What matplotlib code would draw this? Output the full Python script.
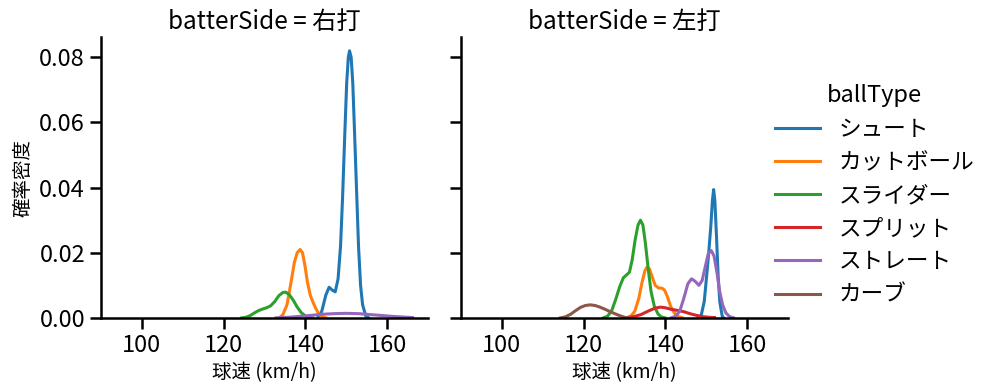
import numpy as np
import matplotlib
matplotlib.use("Agg")
import matplotlib.pyplot as plt

plt.rcParams['font.family'] = ['Noto Sans CJK JP', 'DejaVu Sans']

# ---------------------------
# DATA (density curves)
# ---------------------------
ball_types = ["シュート", "カットボール", "スライダー", "スプリット", "ストレート", "カーブ"]
colors = ["#1f77b4", "#ff7f0e", "#2ca02c", "#d62728", "#9467bd", "#8c564b"]
panels = ["右打", "左打"]

# right-handed batters
r_shoot_x = [143.0, 144.0, 145.0, 145.8, 146.6, 147.3, 148.0, 148.6, 149.1, 149.6, 150.1,
             150.5, 150.8, 151.2, 151.6, 152.0, 152.5, 153.0, 153.5, 154.0, 154.8, 155.5]
r_shoot_y = [0.0, 0.002, 0.007, 0.0094, 0.0085, 0.0080, 0.012, 0.022, 0.037, 0.055, 0.072,
             0.080, 0.082, 0.080, 0.072, 0.058, 0.040, 0.022, 0.010, 0.004, 0.0005, 0.0]
r_cut_x = [133.6, 134.5, 135.5, 136.5, 137.3, 138.0, 138.7, 139.3, 139.9, 140.5, 141.2,
           141.8, 142.5, 143.3, 144.2, 145.0]
r_cut_y = [0.0, 0.001, 0.004, 0.011, 0.017, 0.020, 0.021, 0.020, 0.016, 0.011, 0.0070,
           0.0050, 0.0030, 0.0012, 0.0003, 0.0]
r_slider_x = [124.4, 125.5, 126.5, 127.5, 128.5, 129.5, 130.5, 131.5, 132.5, 133.5, 134.5,
              135.2, 136.0, 137.0, 138.0, 139.0, 140.0, 141.0, 141.7]
r_slider_y = [0.0, 0.0002, 0.0007, 0.0015, 0.0022, 0.0027, 0.0031, 0.0037, 0.0050, 0.0068,
              0.0078, 0.0079, 0.0072, 0.0055, 0.0033, 0.0016, 0.0006, 0.0002, 0.0]
r_straight_x = [132.8, 136.0, 140.0, 144.0, 147.0, 150.0, 153.0, 156.0, 159.0, 162.0, 166.2]
r_straight_y = [0.0, 0.0002, 0.0006, 0.0011, 0.0013, 0.0014, 0.0013, 0.0010, 0.0007, 0.0004, 0.0001]

# left-handed batters
l_shoot_x = [148.1, 148.8, 149.5, 150.1, 150.6, 151.1, 151.5, 151.8, 152.1, 152.5, 152.9,
             153.3, 153.9, 154.3]
l_shoot_y = [0.0, 0.001, 0.005, 0.013, 0.020, 0.028, 0.036, 0.0394, 0.036, 0.025, 0.013,
             0.005, 0.0005, 0.0]
l_cut_x = [130.4, 131.5, 132.5, 133.5, 134.3, 135.0, 135.5, 136.1, 136.8, 137.5, 138.3,
           139.2, 139.8, 140.5, 141.3, 142.2, 143.2, 144.2]
l_cut_y = [0.0, 0.0005, 0.002, 0.006, 0.011, 0.0145, 0.0156, 0.015, 0.0125, 0.010, 0.0092,
           0.0091, 0.0085, 0.0065, 0.0035, 0.0015, 0.0004, 0.0]
l_slider_x = [124.8, 125.8, 126.8, 127.8, 128.8, 129.7, 130.5, 131.2, 131.9, 132.6, 133.3,
              133.9, 134.5, 135.1, 135.8, 136.5, 137.3, 138.2, 139.0, 139.9]
l_slider_y = [0.0, 0.0005, 0.002, 0.0055, 0.0095, 0.0123, 0.0132, 0.0140, 0.018, 0.024,
              0.0285, 0.0300, 0.0285, 0.023, 0.015, 0.008, 0.0035, 0.0012, 0.0003, 0.0]
l_split_x = [130.0, 132.0, 134.0, 136.0, 137.5, 138.8, 140.0, 141.5, 143.0, 144.5, 146.0,
             147.5, 149.0, 150.5, 152.0]
l_split_y = [0.0, 0.0003, 0.0010, 0.0022, 0.0030, 0.0033, 0.0031, 0.0026, 0.0023, 0.0019,
             0.0013, 0.0008, 0.0004, 0.0002, 0.0001]
l_straight_x = [141.4, 142.5, 143.5, 144.5, 145.5, 146.4, 147.3, 148.2, 149.0, 149.8, 150.5,
                151.2, 151.9, 152.6, 153.3, 154.0, 154.8, 155.7, 156.7]
l_straight_y = [0.0, 0.0005, 0.002, 0.006, 0.0105, 0.0120, 0.0112, 0.0100, 0.0115, 0.016,
                0.0198, 0.0207, 0.019, 0.014, 0.008, 0.004, 0.0015, 0.0004, 0.0]
l_curve_x = [114.3, 115.5, 116.8, 118.0, 119.2, 120.4, 121.6, 122.8, 124.0, 125.3, 126.5,
             127.8, 129.0, 130.0, 130.8]
l_curve_y = [0.0, 0.0003, 0.0011, 0.0022, 0.0032, 0.0038, 0.0040, 0.0038, 0.0033, 0.0026,
             0.0019, 0.0012, 0.0006, 0.0002, 0.0]

curves = {
    "右打": {"シュート": (r_shoot_x, r_shoot_y), "カットボール": (r_cut_x, r_cut_y),
           "スライダー": (r_slider_x, r_slider_y), "ストレート": (r_straight_x, r_straight_y)},
    "左打": {"シュート": (l_shoot_x, l_shoot_y), "カットボール": (l_cut_x, l_cut_y),
           "スライダー": (l_slider_x, l_slider_y), "スプリット": (l_split_x, l_split_y),
           "ストレート": (l_straight_x, l_straight_y), "カーブ": (l_curve_x, l_curve_y)},
}

x_ticks = [100, 120, 140, 160]
y_ticks = [0.00, 0.02, 0.04, 0.06, 0.08]

# ---------------------------
# PLOT
# ---------------------------
fig = plt.figure(figsize=(9.97, 3.91), dpi=100)
ax_left = fig.add_axes([0.1013, 0.187, 0.328, 0.718])
ax_right = fig.add_axes([0.4624, 0.187, 0.328, 0.718], sharey=ax_left)

for ax, side in zip([ax_left, ax_right], panels):
    for name, col in zip(ball_types, colors):
        if name in curves[side]:
            xs, ys = curves[side][name]
            ax.plot(xs, ys, color=col, linewidth=2.2)
    ax.set_xlim(90, 170)
    ax.set_ylim(0, 0.0862)
    ax.set_xticks(x_ticks)
    ax.set_yticks(y_ticks)
    ax.spines[["top", "right"]].set_visible(False)
    for s in ["left", "bottom"]:
        ax.spines[s].set_linewidth(1.8)
    ax.tick_params(width=1.8, length=8, labelsize=17)
    ax.set_title(f"batterSide = {side}", fontsize=17.5)
    ax.set_xlabel("球速 (km/h)", fontsize=14)

ax_left.set_ylabel("確率密度", fontsize=14)
ax_left.yaxis.set_major_formatter(matplotlib.ticker.FormatStrFormatter("%.2f"))
plt.setp(ax_right.get_yticklabels(), visible=False)

handles = [plt.Line2D([], [], color=c, linewidth=2.2) for c in colors]
leg = fig.legend(handles, ball_types, title="ballType", loc="center left",
                 bbox_to_anchor=(0.757, 0.5), frameon=False, fontsize=16.3,
                 title_fontsize=17, handlelength=2.0, labelspacing=0.45)

fig.savefig("out.png", dpi=100)
